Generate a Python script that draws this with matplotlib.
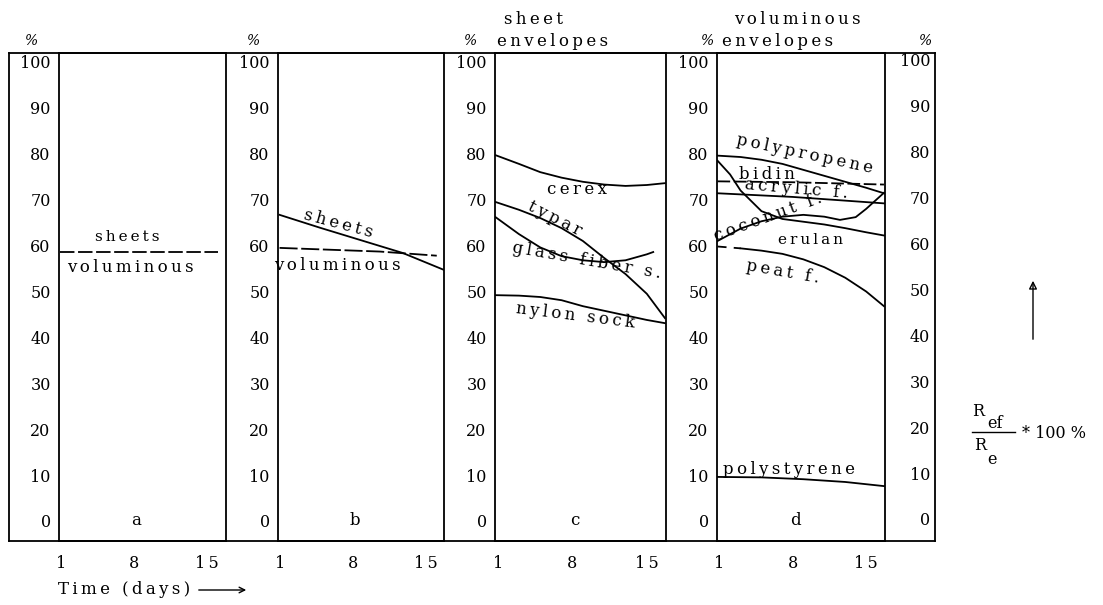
import matplotlib
matplotlib.use("Agg")
import matplotlib.pyplot as plt
from matplotlib.lines import Line2D
from matplotlib.transforms import blended_transform_factory

plt.rcParams['font.family'] = ['DejaVu Serif']

# --- Data ---
Y_TICKS = list(range(0, 101, 10))
X_TICKS = [1, 8, 15]
PANEL_LETTERS = ["a", "b", "c", "d"]

# panel a
a_days = [0.8, 16.0]
a_line = [58.7, 58.7]

# panel b
b_sheets_days = [0.9, 4.8, 9.6, 12.8, 16.8]
b_sheets = [66.7, 63.9, 60.6, 58.4, 54.7]
b_vol_days = [0.9, 10.6, 16.1]
b_vol = [59.5, 58.7, 57.8]

# panel c (sheet envelopes)
c_days = [0.8, 3, 5, 7, 9, 11, 13, 15, 16.7]
cerex = [79.7, 77.8, 76.0, 74.8, 73.9, 73.3, 73.0, 73.2, 73.6]
typar = [69.5, 67.8, 66.0, 63.8, 61.0, 57.3, 53.8, 49.5, 44.2]
nylon_sock = [49.2, 49.1, 48.8, 48.1, 46.8, 45.8, 44.8, 43.8, 43.1]
glass_days = [0.8, 3, 5, 7, 9, 11, 13, 15, 15.6]
glass_fiber = [66.2, 62.5, 59.6, 57.7, 56.8, 56.4, 56.8, 58.1, 58.6]

# panel d (voluminous envelopes)
d_days = [0.8, 3, 5, 7, 9, 11, 13, 15, 16.7]
polypropene = [79.6, 79.3, 78.7, 77.8, 76.5, 75.2, 73.9, 72.6, 71.4]
peat = [59.8, 59.4, 58.9, 58.2, 57.0, 55.3, 53.0, 50.0, 46.8]
erulan_days = [0.8, 3, 5, 7, 9, 11, 12.5, 14, 15, 16.7]
erulan = [61.0, 63.7, 65.3, 66.3, 66.7, 66.3, 65.6, 66.2, 68.0, 71.5]
coconut_days = [0.8, 2, 3, 5, 7, 9, 11, 13, 15, 16.7]
coconut = [78.5, 75.5, 72.0, 67.5, 65.8, 65.2, 64.6, 63.8, 62.9, 62.2]
bidin_days = [0.8, 8, 16.7]
bidin = [74.0, 73.8, 73.3]
acrylic_days = [0.8, 8, 16.7]
acrylic = [71.4, 70.6, 69.2]
polystyrene_days = [0.8, 5, 9, 13, 16.7]
polystyrene = [9.6, 9.5, 9.1, 8.5, 7.6]

# --- Layout (pixels of a 1103x605 figure) ---
W, H = 1103, 605
TOP, BOT = 53, 541
PANELS = [(59, 226), (278, 444), (495, 666), (717, 885)]
LEFT_EDGE, RIGHT_EDGE = 9, 935
COL_X = [32, 254, 471, 708, 926]

fig = plt.figure(figsize=(W / 100, H / 100), dpi=100)


def fx(x):
    return x / W


def fy(y):
    return 1 - y / H


def spaced(word):
    # typewriter-like letter spacing
    return "\u2009".join(word)


def ftext(x, y, s, size=12, **kw):
    fig.text(fx(x), fy(y), spaced(s), fontsize=size, ha='center', va='center', **kw)


LW = 1.3
axes = []
for i, (l, r) in enumerate(PANELS):
    ax = fig.add_axes([fx(l), fy(BOT), (r - l) / W, (BOT - TOP) / H])
    ax.set_xlim(0.75, 16.8)
    ax.set_ylim(-4.36, 101.96)
    ax.set_yticks(Y_TICKS)
    ax.set_yticklabels([str(v) for v in Y_TICKS], fontsize=11.5)
    ax.set_xticks(X_TICKS)
    ax.set_xticklabels([spaced(str(v)) for v in X_TICKS], fontsize=11.5)
    ax.tick_params(axis='y', length=0, pad=6)
    ax.tick_params(axis='x', length=0, pad=10)
    for sp in ax.spines.values():
        sp.set_linewidth(LW)
    ax.text(8.2, 0, PANEL_LETTERS[i], ha='center', va='center', fontsize=12)
    axes.append(ax)

ax_a, ax_b, ax_c, ax_d = axes
lk = dict(color='black', lw=1.3)

# panel a
ax_a.plot(a_days, a_line, ls=(0, (8, 2)), **lk)
ftext(127, 237, "sheets", size=11)
ftext(130, 267, "voluminous")

# panel b
ax_b.plot(b_sheets_days, b_sheets, **lk)
ax_b.plot(b_vol_days, b_vol, ls=(0, (10, 2)), **lk)
ftext(338, 224, "sheets", rotation=-15)
ftext(337, 266, "voluminous")

# panel c
ax_c.plot(c_days, cerex, **lk)
ax_c.plot(c_days, typar, **lk)
ax_c.plot(glass_days, glass_fiber, **lk)
ax_c.plot(c_days, nylon_sock, **lk)
ftext(577, 189, "cerex")
ftext(555, 219, "typar", rotation=-27)
ftext(587, 261, "glass fiber s.", rotation=-10)
ftext(575, 316, "nylon sock", rotation=-7)

# panel d
ax_d.plot(d_days, polypropene, **lk)
ax_d.plot(bidin_days, bidin, ls=(0, (7, 2)), **lk)
ax_d.plot(acrylic_days, acrylic, **lk)
ax_d.plot(coconut_days, coconut, **lk)
ax_d.plot(erulan_days, erulan, **lk)
ax_d.plot(d_days[:2], peat[:2], ls=(0, (5, 4)), **lk)
ax_d.plot(d_days[1:], peat[1:], **lk)
ax_d.plot(polystyrene_days, polystyrene, **lk)
ftext(805, 154, "polypropene", rotation=-12)
ftext(767, 175, "bidin")
ftext(796, 189, "acrylic f.", rotation=-5)
ftext(768, 217, "coconut f.", rotation=20)
ftext(810, 240, "erulan", size=11)
ftext(783, 272, "peat f.", rotation=-10)
ftext(789, 470, "polystyrene")

# outer frame and label columns
for x in (LEFT_EDGE, RIGHT_EDGE):
    fig.add_artist(Line2D([fx(x), fx(x)], [fy(TOP), fy(BOT)], color='black', lw=LW,
                          transform=fig.transFigure))
for y in (TOP, BOT):
    fig.add_artist(Line2D([fx(LEFT_EDGE), fx(RIGHT_EDGE)], [fy(y), fy(y)], color='black',
                          lw=LW, transform=fig.transFigure))

# right-hand tick column
tr = blended_transform_factory(fig.transFigure, ax_d.transData)
for v in Y_TICKS:
    fig.text(fx(930), v, str(v), transform=tr, ha='right', va='center', fontsize=11.5)

for x in COL_X:
    fig.text(fx(x), fy(41), "%", fontsize=10, ha='center', va='center', style='italic')

# headers
fig.text(fx(504), fy(19), spaced("sheet"), fontsize=12, ha='left', va='center')
fig.text(fx(497), fy(42), spaced("envelopes"), fontsize=12, ha='left', va='center')
fig.text(fx(734), fy(19), spaced("voluminous"), fontsize=12, ha='left', va='center')
fig.text(fx(722), fy(42), spaced("envelopes"), fontsize=12, ha='left', va='center')

# time axis caption
fig.text(fx(58), fy(589), spaced("Time (days)"), fontsize=12, ha='left', va='center')
fig.add_artist(plt.Annotation("", xy=(fx(249), fy(590)), xytext=(fx(196), fy(590)),
                              xycoords='figure fraction', textcoords='figure fraction',
                              arrowprops=dict(arrowstyle='->', color='black', lw=1.0)))

# ratio label on the right
fig.add_artist(plt.Annotation("", xy=(fx(1033), fy(278)), xytext=(fx(1033), fy(342)),
                              xycoords='figure fraction', textcoords='figure fraction',
                              arrowprops=dict(arrowstyle='-|>', color='black', lw=1.0,
                                              mutation_scale=12, fill=False)))
fig.text(fx(978), fy(411), "R", fontsize=11.5, ha='center', va='center')
fig.text(fx(995), fy(423), "ef", fontsize=11.5, ha='center', va='center')
fig.add_artist(Line2D([fx(972), fx(1015)], [fy(432), fy(432)], color='black', lw=1.0,
                      transform=fig.transFigure))
fig.text(fx(980), fy(446), "R", fontsize=11.5, ha='center', va='center')
fig.text(fx(992), fy(460), "e", fontsize=11.5, ha='center', va='center')
fig.text(fx(1022), fy(433), "* 100 %", fontsize=11.5, ha='left', va='center')

fig.savefig("out.png", dpi=100)
